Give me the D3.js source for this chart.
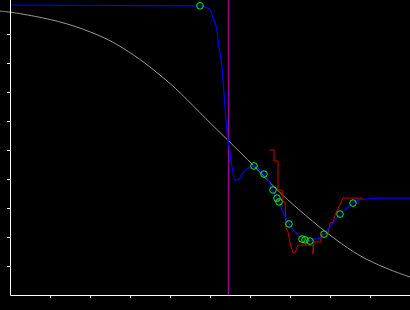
<!DOCTYPE html>
<html>
<head>
<meta charset="utf-8">
<script src="https://cdn.jsdelivr.net/npm/d3@7"></script>
<style>
  html, body { margin: 0; padding: 0; background: #000; }
  svg { display: block; }
</style>
</head>
<body>
<div id="canvas"></div>
<script>
// gray reference curve
const refX = [-0.25, 0, 0.575, 1.425, 2.25, 2.675, 3.25, 3.75, 4.25, 4.925, 5.45, 6.1, 6.675, 7.0, 7.75, 8.5, 8.925, 9.5, 10];
const refY = [9.79, 9.76, 9.63, 9.38, 8.95, 8.65, 8.14, 7.59, 7.00, 6.03, 5.34, 4.45, 3.62, 3.21, 2.31, 1.55, 1.21, 0.86, 0.62];

// blue fitted curve
const fitX = [0, 4.75, 4.875, 5.0, 5.075, 5.175, 5.2, 5.25, 5.3, 5.325, 5.35, 5.375, 5.4, 5.45, 5.5, 5.55, 5.625, 5.7, 5.825, 5.95, 6.1, 6.35, 6.45, 6.575, 6.675, 6.725, 6.825, 6.975, 7.125, 7.325, 7.5, 7.625, 7.75, 7.85, 8.075, 8.25, 8.425, 8.575, 8.75, 8.925, 9.325, 10];
const fitY = [10, 9.97, 9.93, 9.83, 9.55, 9.14, 8.79, 8.34, 7.86, 7.41, 6.97, 6.48, 6.03, 5.34, 4.90, 4.41, 3.97, 3.97, 4.21, 4.38, 4.45, 4.17, 3.97, 3.59, 3.34, 3.21, 2.86, 2.45, 2.17, 1.93, 1.86, 1.93, 1.97, 2.10, 2.48, 2.79, 3.00, 3.17, 3.28, 3.31, 3.34, 3.34];

// red measured steps
const measX = [6.475, 6.6, 6.6, 6.7, 6.7, 6.8, 6.825, 6.875, 6.9, 6.95, 7.0, 7.075, 7.125, 7.175, 7.2, 7.575, 7.575, 7.6, 7.775, 7.775, 7.95, 8.0, 8.075, 8.125, 8.325, 8.825];
const measY = [5.0, 5.0, 4.62, 4.62, 3.62, 3.62, 3.21, 3.21, 2.31, 2.17, 1.79, 1.45, 1.45, 1.62, 1.72, 1.72, 1.41, 1.83, 1.83, 2.07, 2.14, 2.48, 2.52, 2.76, 3.34, 3.34];

// green sample markers
const markX = [4.75, 6.1, 6.35, 6.575, 6.675, 6.725, 6.975, 7.3, 7.375, 7.5, 7.85, 8.25, 8.575];
const markY = [9.97, 4.45, 4.17, 3.62, 3.34, 3.21, 2.45, 1.93, 1.90, 1.86, 2.10, 2.79, 3.17];

// purple marker position
const cutX = 5.45;

const xTicks = [1, 2, 3, 4, 5, 6, 7, 8, 9];
const yTicks = [1, 2, 3, 4, 5, 6, 7, 8, 9];

const W = 410, H = 310;
const margin = { top: 5, right: 0, bottom: 15, left: 10 };

const svg = d3.select("#canvas").append("svg")
  .attr("width", W)
  .attr("height", H)
  .style("background", "#000");

const x = d3.scaleLinear().domain([0, 10]).range([margin.left, W - margin.right]);
const y = d3.scaleLinear().domain([0, 10]).range([H - margin.bottom, margin.top]);

const pts = (xs, ys) => xs.map((v, i) => [v, ys[i]]);

// gray curve
svg.append("path")
  .datum(pts(refX, refY))
  .attr("fill", "none")
  .attr("stroke", "#999")
  .attr("stroke-width", 1)
  .attr("d", d3.line().x(d => x(d[0])).y(d => y(d[1])).curve(d3.curveBasis));

// purple vertical line
svg.append("line")
  .attr("x1", Math.round(x(cutX)) + 0.5)
  .attr("x2", Math.round(x(cutX)) + 0.5)
  .attr("y1", 0)
  .attr("y2", y(0))
  .attr("stroke", "#a000a0")
  .attr("stroke-width", 1);

// red step line
svg.append("path")
  .datum(pts(measX, measY))
  .attr("fill", "none")
  .attr("stroke", "#cc0000")
  .attr("stroke-width", 1)
  .attr("d", d3.line().x(d => x(d[0])).y(d => y(d[1])));

// blue curve
svg.append("path")
  .datum(pts(fitX, fitY))
  .attr("fill", "none")
  .attr("stroke", "#0000ff")
  .attr("stroke-width", 1.2)
  .attr("d", d3.line().x(d => x(d[0])).y(d => y(d[1])).curve(d3.curveMonotoneX));

// green circles
svg.selectAll(".mark")
  .data(pts(markX, markY))
  .enter()
  .append("circle")
  .attr("class", "mark")
  .attr("cx", d => x(d[0]))
  .attr("cy", d => y(d[1]))
  .attr("r", 3.3)
  .attr("fill", "none")
  .attr("stroke", "#00ff00")
  .attr("stroke-width", 1);

// axes
svg.append("g")
  .attr("transform", "translate(0," + y(0) + ")")
  .call(d3.axisBottom(x).tickValues(xTicks).tickSize(3).tickSizeOuter(0).tickFormat(""));

const yAxis = svg.append("g")
  .attr("transform", "translate(" + x(0) + ",0)")
  .call(d3.axisLeft(y).tickValues(yTicks).tickSize(3).tickSizeOuter(0).tickFormat(""));

yAxis.select(".domain").attr("d", "M0.5,0V" + (y(0) + 0.5));

svg.selectAll(".domain, .tick line")
  .attr("stroke", "#fff")
  .attr("stroke-width", 1);
</script>
</body>
</html>
